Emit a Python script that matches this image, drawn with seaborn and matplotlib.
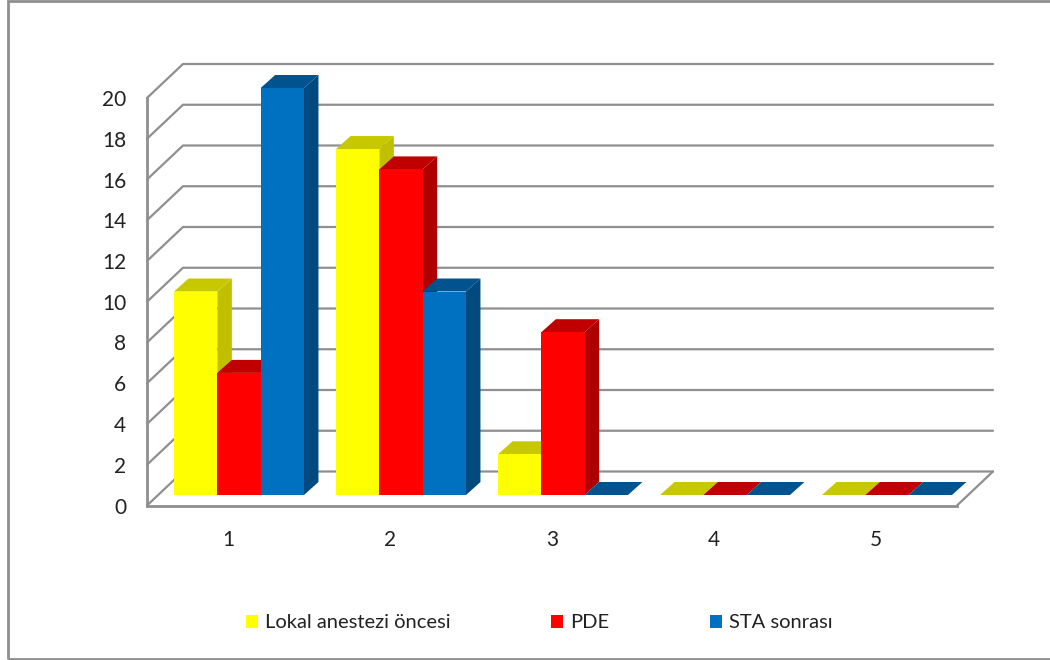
import matplotlib
matplotlib.use("Agg")
import matplotlib.pyplot as plt
from matplotlib.patches import Polygon, Rectangle
import pandas as pd
import seaborn as sns

# Values per category for the three measurement stages
categories = ["1", "2", "3", "4", "5"]
lokal = [10, 17, 2, 0, 0]
pde = [6, 16, 8, 0, 0]
sta = [20, 10, 0, 0, 0]
series_names = ["Lokal anestezi öncesi", "PDE", "STA sonrası"]
y_ticks = list(range(0, 21, 2))

front_colors = ["#FFFF00", "#FF0000", "#0070C0"]
top_colors = ["#C8C800", "#C00000", "#00538F"]
side_colors = ["#C0C000", "#AE0000", "#004A80"]
grid_color = "#8F8F8F"
text_color = "#222222"

W, H = 1050, 660
sns.set_theme(style="white")
plt.rcParams["font.family"] = ["Lato", "DejaVu Sans"]

df = pd.DataFrame({
    "category": categories * 3,
    "value": lokal + pde + sta,
    "series": sum([[name] * len(categories) for name in series_names], []),
})

fig = plt.figure(figsize=(W / 100, H / 100), dpi=100, facecolor="white")


def pixel_axes(x0, x1, y_top, y_bottom):
    return fig.add_axes([x0 / W, 1 - y_bottom / H, (x1 - x0) / W, (y_bottom - y_top) / H])


# Front plane of the box: carries tick labels and the front frame lines
ax = pixel_axes(147, 957, 98, 505.5)
ax.set_xlim(-0.5, 4.5)
ax.set_ylim(0, 20)
ax.set_yticks(y_ticks)
ax.set_xticks(range(len(categories)))
ax.set_xticklabels(categories)
ax.tick_params(axis="both", length=0, labelsize=15, colors=text_color)
ax.tick_params(axis="y", pad=15)
ax.tick_params(axis="x", pad=18)
ax.patch.set_alpha(0)
for name in ("top", "right"):
    ax.spines[name].set_visible(False)
for name in ("left", "bottom"):
    ax.spines[name].set_color(grid_color)
    ax.spines[name].set_linewidth(2.0)

# Wall depth expressed in data units of the front plane
wall_dx = 36 / (810 / 5)
wall_dy = 34 / (407.5 / 20)
for tick in y_ticks:
    ax.plot([-0.5, -0.5 + wall_dx, 4.5 + wall_dx], [tick, tick + wall_dy, tick + wall_dy],
            color=grid_color, lw=1.6, clip_on=False, zorder=1, solid_joinstyle="miter")
ax.plot([4.5, 4.5 + wall_dx], [0, wall_dy], color=grid_color, lw=1.6, clip_on=False, zorder=1)

# Bars stand on a plane set slightly behind the front of the box
bars_ax = pixel_axes(158, 968, 88, 495)
bars_ax.patch.set_alpha(0)
sns.barplot(
    data=df, x="category", y="value", hue="series", hue_order=series_names,
    palette=front_colors, width=0.802, gap=0, saturation=1, ax=bars_ax,
    linewidth=0, zorder=3,
)
bars_ax.set_xlim(-0.5, 4.5)
bars_ax.set_ylim(0, 20)
bars_ax.set_axis_off()

# Extrude every bar: side face and top face offset into the depth
bar_dx = 14.5 / (810 / 5)
bar_dy = 13 / (407 / 20)
bar_patches = [p for p in bars_ax.patches if isinstance(p, Rectangle)][:15]
for i, bar in enumerate(bar_patches):
    s = i // len(categories)
    x0, x1 = bar.get_x(), bar.get_x() + bar.get_width()
    h = bar.get_height()
    side = Polygon([(x1, 0), (x1 + bar_dx, bar_dy), (x1 + bar_dx, h + bar_dy), (x1, h)],
                   closed=True, fc=side_colors[s], ec="none", clip_on=False, zorder=2)
    top = Polygon([(x0, h), (x0 + bar_dx, h + bar_dy), (x1 + bar_dx, h + bar_dy), (x1, h)],
                  closed=True, fc=top_colors[s], ec="none", clip_on=False, zorder=2.5)
    bars_ax.add_patch(side)
    bars_ax.add_patch(top)

# Legend along the bottom
handles, labels = bars_ax.get_legend_handles_labels()
bars_ax.get_legend().remove()
fig.legend(
    handles, labels, ncol=3, frameon=False, fontsize=14.5, labelcolor=text_color,
    loc="center left", bbox_to_anchor=(228 / W, 1 - 623 / H),
    handlelength=0.6, handleheight=0.6, handletextpad=0.34, columnspacing=5.0,
)

# Outer chart frame
fig.add_artist(Rectangle((7.5 / W, 1 / H), (W - 7.5) / W + 0.01, (H - 2) / H,
                         transform=fig.transFigure, fc="none", ec=grid_color, lw=2))

fig.savefig("out.png", dpi=100)
